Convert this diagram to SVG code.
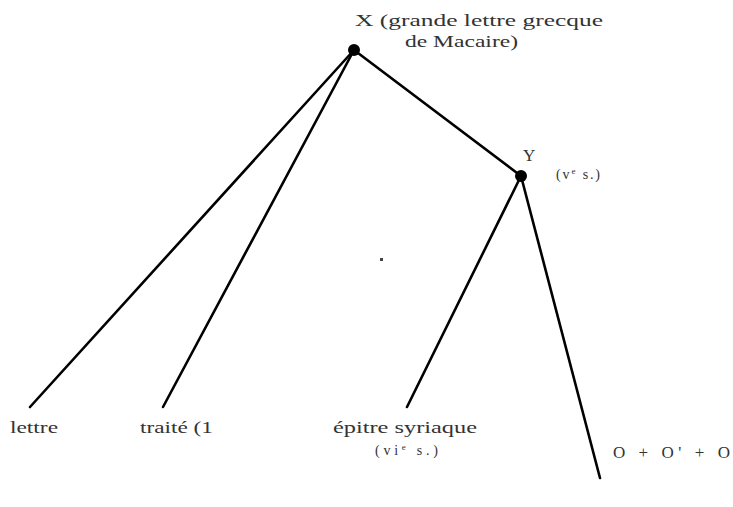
<svg xmlns="http://www.w3.org/2000/svg" width="733" height="507" viewBox="0 0 733 507">
<style>
.t{font-family:"Liberation Serif","DejaVu Serif",serif;font-size:17px;fill:#333}
.s{font-size:14px}
.e{stroke:#000;stroke-width:2.6;fill:none;stroke-linecap:round}
</style>
<rect width="733" height="507" fill="#fff"/>
<g id="connectors">
<line class="e" x1="354" y1="50" x2="30" y2="407"/>
<line class="e" x1="354" y1="50" x2="163" y2="407"/>
<line class="e" x1="354" y1="50" x2="521" y2="176"/>
<line class="e" x1="521" y1="176" x2="407" y2="407"/>
<line class="e" x1="521" y1="176" x2="600" y2="478"/>
</g>
<g id="node-X">
<circle cx="354" cy="50" r="6" fill="#000"/>
<text class="t" x="355" y="26" textLength="248" lengthAdjust="spacingAndGlyphs">X (grande lettre grecque</text>
<text class="t" x="405" y="47" textLength="113" lengthAdjust="spacingAndGlyphs">de Macaire)</text>
</g>
<g id="node-Y">
<circle cx="521" cy="176" r="6" fill="#000"/>
<text class="t" x="523" y="161">Y</text>
<text class="t s" x="556" y="179" textLength="44" lengthAdjust="spacing">(v<tspan font-size="9" dy="-5">e</tspan><tspan dy="5"> s.)</tspan></text>
</g>
<g id="node-lettre">
<text class="t" x="10" y="433" textLength="48" lengthAdjust="spacingAndGlyphs">lettre</text>
</g>
<g id="node-traite">
<text class="t" x="140" y="433" textLength="73" lengthAdjust="spacingAndGlyphs">traité (1</text>
</g>
<g id="node-epitre">
<text class="t" x="333" y="433" textLength="144" lengthAdjust="spacingAndGlyphs">épitre syriaque</text>
<text class="t s" x="375" y="455" textLength="63" lengthAdjust="spacing">(vi<tspan font-size="9" dy="-5">e</tspan><tspan dy="5"> s.)</tspan></text>
</g>
<g id="node-O">
<text class="t" x="613" y="458" textLength="117" lengthAdjust="spacing">O + O' + O</text>
</g>
<rect x="380" y="258" width="3" height="3" fill="#444"/>
</svg>
